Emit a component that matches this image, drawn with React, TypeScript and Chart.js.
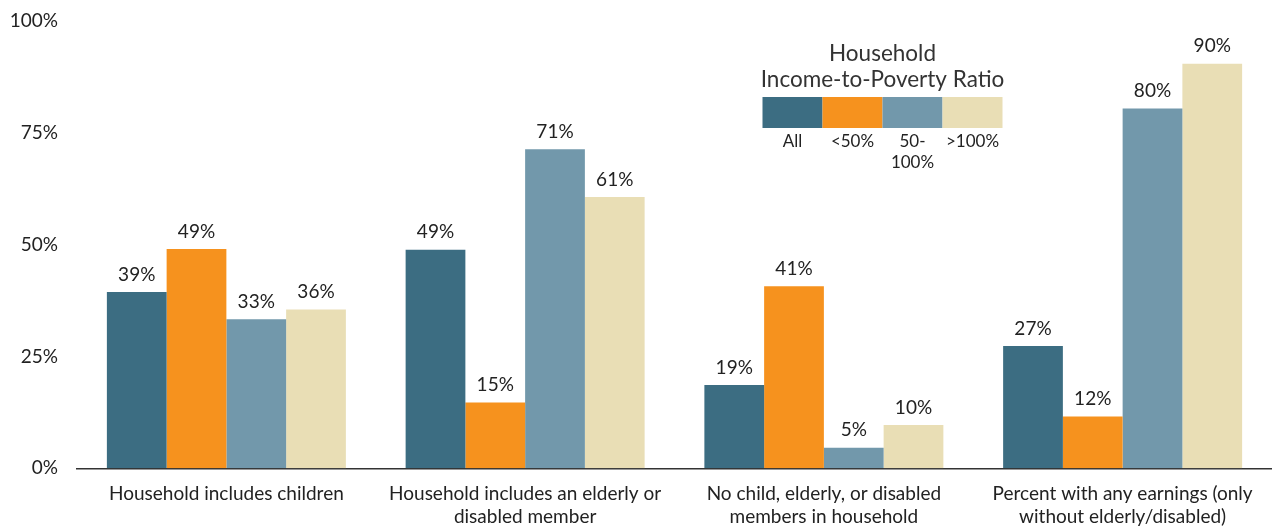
import React, { useEffect, useRef } from "react";
import { Chart, registerables } from "chart.js";

Chart.register(...registerables);

const categories: string[][] = [
  ["Household includes children"],
  ["Household includes an elderly or", "disabled member"],
  ["No child, elderly, or disabled", "members in household"],
  ["Percent with any earnings (only", "without elderly/disabled)"],
];
const seriesNames = ["All", "<50%", "50-100%", ">100%"];
const legendLabels: string[][] = [["All"], ["<50%"], ["50-", "100%"], [">100%"]];
const legendTitle = ["Household", "Income-to-Poverty Ratio"];
// Bar heights (labels show the rounded value)
const allValues = [39.4, 48.8, 18.6, 27.3];
const under50Values = [49.0, 14.7, 40.7, 11.6];
const mid50to100Values = [33.3, 71.3, 4.6, 80.4];
const over100Values = [35.5, 60.6, 9.7, 90.4];
const seriesColors = ["#3c6d82", "#f6921e", "#7298ab", "#e9deb5"];
const yTicks = [0, 25, 50, 75, 100];

const FONT = "Lato, 'Open Sans', sans-serif";
const TEXT = "#222";

const dataLabelPlugin = {
  id: "dataLabels",
  afterDatasetsDraw(chart: any) {
    const ctx = chart.ctx;
    ctx.save();
    ctx.font = `19px ${FONT}`;
    ctx.fillStyle = TEXT;
    ctx.textAlign = "center";
    ctx.textBaseline = "middle";
    chart.data.datasets.forEach((ds: any, i: number) => {
      const meta = chart.getDatasetMeta(i);
      meta.data.forEach((bar: any, j: number) => {
        ctx.fillText(`${Math.round(ds.data[j])}%`, bar.x, bar.y - 17.5);
      });
    });
    ctx.restore();
  },
};

const legendPlugin = {
  id: "customLegend",
  afterDraw(chart: any) {
    const ctx = chart.ctx;
    const area = chart.chartArea;
    const boxW = 60;
    const boxH = 31;
    const cx = area.left + 805.5;
    const left = cx - (boxW * seriesColors.length) / 2;
    const boxTop = 97;
    ctx.save();
    ctx.textAlign = "center";
    ctx.textBaseline = "middle";
    ctx.fillStyle = "#333";
    ctx.font = `22.5px ${FONT}`;
    legendTitle.forEach((t, i) => ctx.fillText(t, cx, 54 + i * 26));
    seriesColors.forEach((c, i) => {
      ctx.fillStyle = c;
      ctx.fillRect(left + i * boxW, boxTop, boxW, boxH);
    });
    ctx.fillStyle = TEXT;
    ctx.font = `17px ${FONT}`;
    legendLabels.forEach((lines, i) => {
      lines.forEach((l, k) => {
        ctx.fillText(l, left + i * boxW + boxW / 2, 142 + k * 21);
      });
    });
    ctx.restore();
  },
};

export default function App() {
  const ref = useRef<HTMLCanvasElement>(null);
  useEffect(() => {
    if (!ref.current) return;
    const seriesData = [allValues, under50Values, mid50to100Values, over100Values];
    const chart = new Chart(ref.current, {
      type: "bar",
      data: {
        labels: categories,
        datasets: seriesNames.map((name, i) => ({
          label: name,
          data: seriesData[i],
          backgroundColor: seriesColors[i],
          borderWidth: 0,
          categoryPercentage: 0.8,
          barPercentage: 1.0,
        })),
      },
      options: {
        responsive: false,
        animation: false,
        layout: { padding: { top: 20.7, left: 0, right: 0, bottom: 0 } },
        plugins: {
          legend: { display: false },
          tooltip: { enabled: false },
          title: { display: false },
        },
        scales: {
          x: {
            grid: { display: false, drawTicks: false },
            border: { display: true, color: "#333", width: 1.5 },
            ticks: {
              font: { family: FONT, size: 19 },
              color: TEXT,
              padding: 14,
              autoSkip: false,
              maxRotation: 0,
              minRotation: 0,
            },
            afterFit: (s: any) => {
              s.height = 58.7;
              s.paddingLeft = 0;
              s.paddingRight = 0;
            },
          },
          y: {
            min: yTicks[0],
            max: yTicks[yTicks.length - 1],
            afterBuildTicks: (s: any) => {
              s.ticks = yTicks.map((v) => ({ value: v }));
            },
            grid: { display: false, drawTicks: false },
            border: { display: false },
            ticks: {
              font: { family: FONT, size: 19 },
              color: TEXT,
              padding: 19,
              callback: (v: any) => `${v}%`,
            },
            afterFit: (s: any) => {
              s.width = 77;
              s.paddingTop = 0;
              s.paddingBottom = 0;
            },
          },
        },
      },
      plugins: [dataLabelPlugin, legendPlugin],
    });
    return () => chart.destroy();
  }, []);
  return (
    <div style={{ position: "fixed", left: 0, top: 0, width: 1272, height: 527, background: "#fff" }}>
      <canvas ref={ref} width={1272} height={527} style={{ display: "block" }} />
    </div>
  );
}
